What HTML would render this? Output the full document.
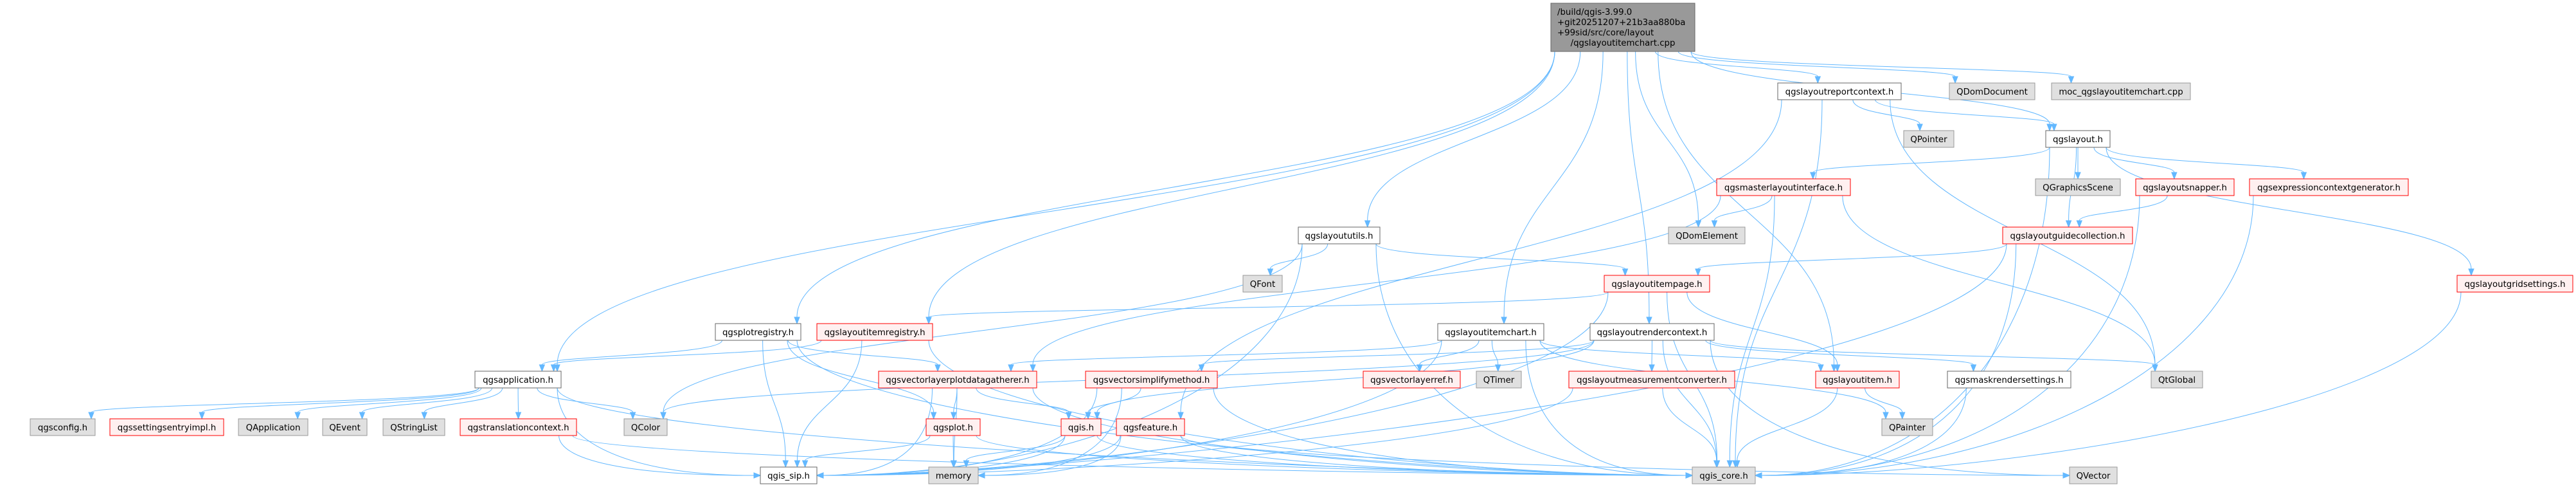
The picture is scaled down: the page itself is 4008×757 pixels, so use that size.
<!DOCTYPE html>
<html><head><meta charset="utf-8">
<style>
html,body{margin:0;padding:0;background:#fff;}
svg{display:block;}
text{font-family:"DejaVu Sans","Liberation Sans",sans-serif;font-size:13.3px;fill:#000;}
</style></head>
<body>
<svg id="g" width="4008" height="757" viewBox="0 0 4008 757" xmlns="http://www.w3.org/2000/svg">
<g id="edges" fill="none" stroke="#63b8ff" stroke-width="1"></g>
<g id="heads" fill="#63b8ff" stroke="#63b8ff" stroke-width="1"></g>
<g id="nodes">
<rect x="2413" y="5" width="224" height="75" fill="#999999" stroke="#666666"/>
<text x="2423" y="23">/build/qgis-3.99.0</text>
<text x="2423" y="39">+git20251207+21b3aa880ba</text>
<text x="2423" y="55">+99sid/src/core/layout</text>
<text x="2525" y="71" text-anchor="middle">/qgslayoutitemchart.cpp</text>
</g>
<g id="boxes" text-anchor="middle">
<rect x="2766" y="129" width="192" height="26" fill="#fff" stroke="#666"/><text x="2862" y="147">qgslayoutreportcontext.h</text>
<rect x="3033" y="129" width="133" height="26" fill="#e0e0e0" stroke="#999"/><text x="3099.5" y="147">QDomDocument</text>
<rect x="3192" y="129" width="216" height="26" fill="#e0e0e0" stroke="#999"/><text x="3300" y="147">moc_qgslayoutitemchart.cpp</text>
<rect x="2962" y="203" width="78" height="26" fill="#e0e0e0" stroke="#999"/><text x="3001" y="221">QPointer</text>
<rect x="3183" y="203" width="100" height="26" fill="#fff" stroke="#666"/><text x="3233" y="221">qgslayout.h</text>
<rect x="2671" y="278" width="208" height="26" fill="#fff0f0" stroke="#ff0000"/><text x="2775" y="296">qgsmasterlayoutinterface.h</text>
<rect x="3167" y="278" width="132" height="26" fill="#e0e0e0" stroke="#999"/><text x="3233" y="296">QGraphicsScene</text>
<rect x="3323" y="278" width="153" height="26" fill="#fff0f0" stroke="#ff0000"/><text x="3399.5" y="296">qgslayoutsnapper.h</text>
<rect x="3500" y="278" width="247" height="26" fill="#fff0f0" stroke="#ff0000"/><text x="3623.5" y="296">qgsexpressioncontextgenerator.h</text>
<rect x="2020" y="353" width="127" height="26" fill="#fff" stroke="#666"/><text x="2083.5" y="371">qgslayoututils.h</text>
<rect x="2596" y="353" width="119" height="26" fill="#e0e0e0" stroke="#999"/><text x="2655.5" y="371">QDomElement</text>
<rect x="3116" y="353" width="202" height="26" fill="#fff0f0" stroke="#ff0000"/><text x="3217" y="371">qgslayoutguidecollection.h</text>
<rect x="1934" y="428" width="61" height="26" fill="#e0e0e0" stroke="#999"/><text x="1964.5" y="446">QFont</text>
<rect x="2496" y="428" width="164" height="26" fill="#fff0f0" stroke="#ff0000"/><text x="2578" y="446">qgslayoutitempage.h</text>
<rect x="3823" y="428" width="180" height="26" fill="#fff0f0" stroke="#ff0000"/><text x="3913" y="446">qgslayoutgridsettings.h</text>
<rect x="1113" y="503" width="133" height="26" fill="#fff" stroke="#666"/><text x="1179.5" y="521">qgsplotregistry.h</text>
<rect x="1271" y="503" width="180" height="26" fill="#fff0f0" stroke="#ff0000"/><text x="1361" y="521">qgslayoutitemregistry.h</text>
<rect x="2237" y="503" width="165" height="26" fill="#fff" stroke="#666"/><text x="2319.5" y="521">qgslayoutitemchart.h</text>
<rect x="2474" y="503" width="193" height="26" fill="#fff" stroke="#666"/><text x="2570.5" y="521">qgslayoutrendercontext.h</text>
<rect x="739" y="577" width="134" height="26" fill="#fff" stroke="#666"/><text x="806" y="595">qgsapplication.h</text>
<rect x="1367" y="577" width="246" height="26" fill="#fff0f0" stroke="#ff0000"/><text x="1490" y="595">qgsvectorlayerplotdatagatherer.h</text>
<rect x="1689" y="577" width="205" height="26" fill="#fff0f0" stroke="#ff0000"/><text x="1791.5" y="595">qgsvectorsimplifymethod.h</text>
<rect x="2121" y="577" width="151" height="26" fill="#fff0f0" stroke="#ff0000"/><text x="2196.5" y="595">qgsvectorlayerref.h</text>
<rect x="2297" y="577" width="70" height="26" fill="#e0e0e0" stroke="#999"/><text x="2332" y="595">QTimer</text>
<rect x="2441" y="577" width="258" height="26" fill="#fff0f0" stroke="#ff0000"/><text x="2570" y="595">qgslayoutmeasurementconverter.h</text>
<rect x="2825" y="577" width="130" height="26" fill="#fff0f0" stroke="#ff0000"/><text x="2890" y="595">qgslayoutitem.h</text>
<rect x="3030" y="577" width="192" height="26" fill="#fff" stroke="#666"/><text x="3126" y="595">qgsmaskrendersettings.h</text>
<rect x="3347" y="577" width="80" height="26" fill="#e0e0e0" stroke="#999"/><text x="3387" y="595">QtGlobal</text>
<rect x="47" y="651" width="101" height="26" fill="#e0e0e0" stroke="#999"/><text x="97.5" y="669">qgsconfig.h</text>
<rect x="171" y="651" width="177" height="26" fill="#fff0f0" stroke="#ff0000"/><text x="259.5" y="669">qgssettingsentryimpl.h</text>
<rect x="371" y="651" width="108" height="26" fill="#e0e0e0" stroke="#999"/><text x="425" y="669">QApplication</text>
<rect x="502" y="651" width="69" height="26" fill="#e0e0e0" stroke="#999"/><text x="536.5" y="669">QEvent</text>
<rect x="596" y="651" width="96" height="26" fill="#e0e0e0" stroke="#999"/><text x="644" y="669">QStringList</text>
<rect x="716" y="651" width="181" height="26" fill="#fff0f0" stroke="#ff0000"/><text x="806.5" y="669">qgstranslationcontext.h</text>
<rect x="971" y="651" width="67" height="26" fill="#e0e0e0" stroke="#999"/><text x="1004.5" y="669">QColor</text>
<rect x="1441" y="651" width="84" height="26" fill="#fff0f0" stroke="#ff0000"/><text x="1483" y="669">qgsplot.h</text>
<rect x="1651" y="651" width="62" height="26" fill="#fff0f0" stroke="#ff0000"/><text x="1682" y="669">qgis.h</text>
<rect x="1737" y="651" width="106" height="26" fill="#fff0f0" stroke="#ff0000"/><text x="1790" y="669">qgsfeature.h</text>
<rect x="2928" y="651" width="79" height="26" fill="#e0e0e0" stroke="#999"/><text x="2967.5" y="669">QPainter</text>
<rect x="1183" y="726" width="88" height="26" fill="#fff" stroke="#666"/><text x="1227" y="744">qgis_sip.h</text>
<rect x="1445" y="726" width="77" height="26" fill="#e0e0e0" stroke="#999"/><text x="1483.5" y="744">memory</text>
<rect x="2633" y="726" width="98" height="26" fill="#e0e0e0" stroke="#999"/><text x="2682" y="744">qgis_core.h</text>
<rect x="3220" y="726" width="74" height="26" fill="#e0e0e0" stroke="#999"/><text x="3257" y="744">QVector</text>
</g>
</svg>
<script>
var N={
main:[2413,2637,5,75],rep:[2766,2958,129,26],ddoc:[3033,3166,129,26],moc:[3192,3408,129,26],
qptr:[2962,3040,203,26],lay:[3183,3283,203,26],mas:[2671,2879,278,26],gsc:[3167,3299,278,26],
snap:[3323,3476,278,26],exg:[3500,3747,278,26],lut:[2020,2147,353,26],del:[2596,2715,353,26],
guide:[3116,3318,353,26],font:[1934,1995,428,26],page:[2496,2660,428,26],grid:[3823,4003,428,26],
preg:[1113,1246,503,26],ireg:[1271,1451,503,26],chart:[2237,2402,503,26],rctx:[2474,2667,503,26],
app:[739,873,577,26],vlp:[1367,1613,577,26],vsm:[1689,1894,577,26],vlr:[2121,2272,577,26],
timer:[2297,2367,577,26],meas:[2441,2699,577,26],item:[2825,2955,577,26],mask:[3030,3222,577,26],
qtg:[3347,3427,577,26],cfg:[47,148,651,26],set:[171,348,651,26],qapp:[371,479,651,26],
qev:[502,571,651,26],qsl:[596,692,651,26],trc:[716,897,651,26],col:[971,1038,651,26],
plot:[1441,1525,651,26],qgis:[1651,1713,651,26],feat:[1737,1843,651,26],pnt:[2928,3007,651,26],
sip:[1183,1271,726,26],mem:[1445,1522,726,26],core:[2633,2731,726,26],vec:[3220,3294,726,26]};
var E=[
['main','rep'],['main','ddoc'],['main','moc'],['main','lay'],['main','del'],['main','lut'],['main','chart'],
['main','rctx'],['main','ireg'],['main','preg'],['main','app'],['main','item'],
['rep','lay'],['rep','qptr'],['rep','feat'],['rep','core'],['rep','qtg'],
['lay','mas'],['lay','gsc'],['lay','snap'],['lay','exg'],['lay','guide'],['lay','grid'],['lay','core'],
['mas','del'],['mas','core'],['mas','qtg'],['mas','vlp'],
['snap','guide'],['snap','core'],['guide','page'],['guide','core'],['guide','sip'],['grid','core'],['exg','core'],
['lut','font'],['lut','page'],['lut','core'],['lut','col'],['lut','sip'],
['page','ireg'],['page','item'],['page','core'],['page','sip'],
['chart','vlr'],['chart','timer'],['chart','item'],['chart','vlp'],['chart','core'],['chart','sip'],['chart','pnt'],
['rctx','meas'],['rctx','mask'],['rctx','qtg'],['rctx','vec'],['rctx','core'],['rctx','vsm'],['rctx','qgis'],['rctx','col'],
['meas','core'],['meas','sip'],['item','pnt'],['item','core'],['mask','core'],
['preg','app'],['preg','plot'],['preg','sip'],['preg','core'],['preg','vlp'],
['ireg','app'],['ireg','sip'],['ireg','core'],
['app','cfg'],['app','set'],['app','qapp'],['app','qev'],['app','qsl'],['app','trc'],['app','col'],['app','sip'],['app','core'],
['trc','sip'],['trc','core'],
['vlp','plot'],['vlp','qgis'],['vlp','mem'],['vlp','core'],['vlp','sip'],
['vsm','qgis'],['vsm','mem'],['vsm','sip'],['vsm','core'],
['plot','mem'],['plot','core'],['plot','sip'],
['qgis','mem'],['qgis','core'],['qgis','sip'],
['feat','mem'],['feat','core'],['feat','sip'],['feat','vec']];
function cl(v,a){return Math.max(-a,Math.min(a,v));}
var ed=document.getElementById('edges'),hd=document.getElementById('heads'),ns='http://www.w3.org/2000/svg';
E.forEach(function(e){
 var S=N[e[0]],T=N[e[1]];
 var sw=S[1]-S[0],tw=T[1]-T[0];
 var scx=(S[0]+S[1])/2,tcx=(T[0]+T[1])/2,dx=tcx-scx;
 var sx=scx+cl(dx*0.15,sw/2-6),sy=S[2]+S[3];
 var ex,ey,c1x,c1y,c2x,c2y;
 if(T[2]==726&&Math.abs(dx)>260){
  var sg=dx>0?1:-1; ex=sg>0?T[0]:T[1]; ey=T[2]+13;
  c1x=sx;c1y=sy+(ey-sy)*0.6; c2x=ex-sg*Math.min(Math.abs(dx)*0.5,400); c2y=ey;
 } else {
  ex=tcx-cl(dx*0.1,tw/2-6); ey=T[2];
  var h=(ey-sy)*0.5; c1x=sx;c1y=sy+h;c2x=ex;c2y=ey-h;
 }
 var vx=ex-c2x,vy=ey-c2y,L=Math.sqrt(vx*vx+vy*vy)||1;vx/=L;vy/=L;
 var bx=ex-vx*10,by=ey-vy*10;
 var p=document.createElementNS(ns,'path');
 p.setAttribute('d','M'+sx+','+sy+' C'+c1x+','+c1y+' '+c2x+','+(c2y)+' '+bx+','+by);
 ed.appendChild(p);
 var a=document.createElementNS(ns,'path');
 var px=-vy*4,py=vx*4;
 a.setAttribute('d','M'+ex+','+ey+' L'+(bx+px)+','+(by+py)+' L'+(bx-px)+','+(by-py)+' Z');
 hd.appendChild(a);
});
</script>
</body></html>
